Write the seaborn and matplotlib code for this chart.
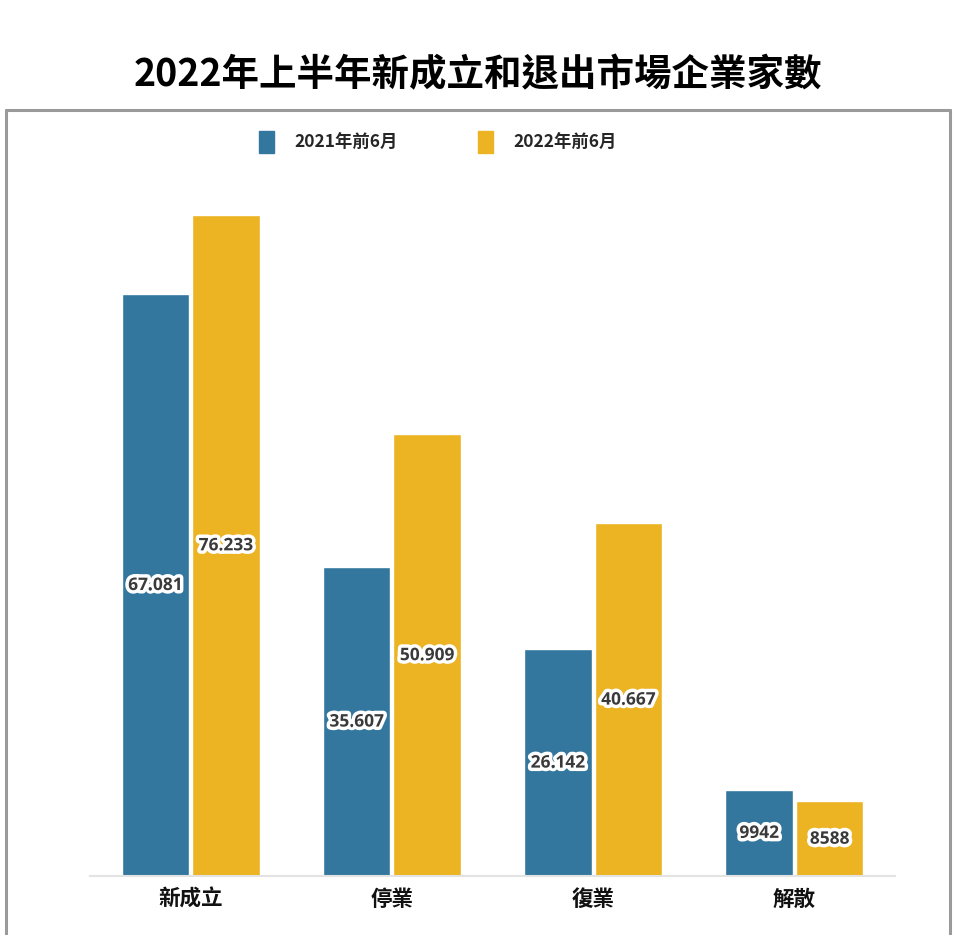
import matplotlib
matplotlib.use("Agg")
import matplotlib.pyplot as plt
import matplotlib.patheffects as pe
from matplotlib.lines import Line2D
from matplotlib.patches import Patch
import seaborn as sns
import pandas as pd

categories = ["新成立", "停業", "復業", "解散"]
series_names = ["2021年前6月", "2022年前6月"]
values_2021 = [67081, 35607, 26142, 9942]
values_2022 = [76233, 50909, 40667, 8588]
colors = ["#33779E", "#ECB322"]
title = "2022年上半年新成立和退出市場企業家數"

df = pd.DataFrame({
    "cat": categories * 2,
    "year": [series_names[0]] * 4 + [series_names[1]] * 4,
    "val": values_2021 + values_2022,
})

sns.set_theme(style="white")
plt.rcParams["font.family"] = ["Noto Sans CJK TC", "DejaVu Sans"]

fig = plt.figure(figsize=(9.56, 9.35), dpi=100)
ax = fig.add_axes([90 / 956, 59 / 935, 805 / 956, 694 / 935])

sns.barplot(data=df, x="cat", y="val", hue="year", order=categories,
            hue_order=series_names, palette=colors, width=0.7, gap=0.04,
            saturation=1, legend=False, ax=ax)

ax.set_ylim(0, 80000)
ax.set_xlim(-0.5, 3.5)
ax.set_xlabel("")
ax.set_ylabel("")
ax.set_yticks([])
for s in ["left", "right", "top"]:
    ax.spines[s].set_visible(False)
ax.spines["bottom"].set_color("#e3e3e3")
ax.spines["bottom"].set_linewidth(1.5)
ax.tick_params(axis="x", length=0, pad=9)
for lbl in ax.get_xticklabels():
    lbl.set_fontsize(15.5)
    lbl.set_fontweight("bold")
    lbl.set_color("#111111")


def fmt(v):
    v = int(round(v))
    return f"{v:,}".replace(",", ".") if v >= 10000 else str(v)


for cont in ax.containers:
    texts = ax.bar_label(cont, labels=[fmt(b.get_height()) for b in cont],
                         label_type="center", fontsize=12.5, fontweight="bold",
                         color="#3a3a3a", family=["Open Sans", "DejaVu Sans"])
    for t in texts:
        t.set_path_effects([pe.withStroke(linewidth=5, foreground="white")])

fig.text(0.5, 1 - 75 / 935, title, ha="center", va="center",
         fontsize=27, fontweight="bold", color="black")

handles = [Patch(facecolor=c, edgecolor=c) for c in colors]
fig.legend(handles, series_names, loc="center", ncol=2,
           bbox_to_anchor=(438 / 956, 1 - 142 / 935), frameon=False,
           handlelength=0.85, handleheight=1.5, handletextpad=1.2,
           columnspacing=4.6, prop={"size": 12.5, "weight": "bold"})

# outer frame (left, top, right)
fc = "#9a9a9a"
fig.add_artist(Line2D([6 / 956, 6 / 956], [0, 1 - 110 / 935], transform=fig.transFigure, color=fc, lw=2.2))
fig.add_artist(Line2D([6 / 956, 950 / 956], [1 - 110 / 935, 1 - 110 / 935], transform=fig.transFigure, color=fc, lw=2.2))
fig.add_artist(Line2D([950 / 956, 950 / 956], [0, 1 - 110 / 935], transform=fig.transFigure, color=fc, lw=2.2))

fig.savefig("out.png", dpi=100, facecolor="white")
